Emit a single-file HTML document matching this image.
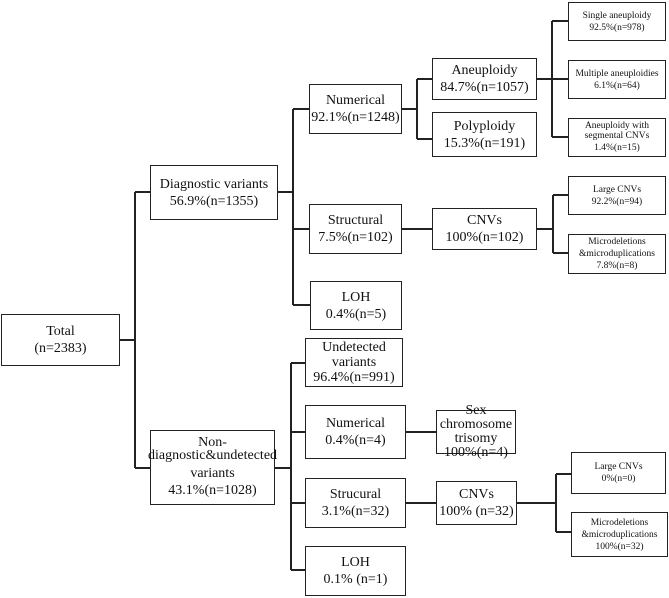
<!DOCTYPE html>
<html><head><meta charset="utf-8"><style>
html,body{margin:0;padding:0;background:#fff;}
body{width:669px;height:598px;position:relative;overflow:hidden;font-family:"Liberation Serif",serif;color:#111;}
.b{position:absolute;box-sizing:border-box;border:1.6px solid #222;display:flex;flex-direction:column;align-items:center;justify-content:center;text-align:center;font-size:14px;line-height:17px;}
.s{font-size:9.5px;line-height:12px;}
svg{position:absolute;left:0;top:0;}
</style></head><body>
<svg width="669" height="598" stroke="#222" stroke-width="2" fill="none">
<path d="M120 340H135M135 192V468M135 192H150M135 468H150"/>
<path d="M278 192H293M293 109V305M293 109H309M293 229H309M293 305H310"/>
<path d="M402 109H417M417 79V139M417 79H432M417 139H432"/>
<path d="M537 79H552M552 21V137M552 21H568M552 79H568M552 137H568"/>
<path d="M402 229H432M537 229H553M553 195V253M553 195H568M553 253H568"/>
<path d="M275 468H291M291 363V570M291 363H305M291 432H305M291 503H305M291 570H305"/>
<path d="M406 432H436M406 503H436M517 503H556M556 474V532M556 474H571M556 532H571"/>
</svg>
<div class="b" style="left:1px;top:314px;width:119px;height:52px;">Total<br>(n=2383)</div>
<div class="b" style="left:150px;top:165px;width:128px;height:55px;">Diagnostic variants<br>56.9%(n=1355)</div>
<div class="b" style="left:150px;top:430px;width:125px;height:75px;"><span style="line-height:13px">Non-<br>diagnostic&amp;undetected</span><span style="margin-top:3px">variants<br>43.1%(n=1028)</span></div>
<div class="b" style="left:309px;top:84px;width:93px;height:50px;">Numerical<br>92.1%(n=1248)</div>
<div class="b" style="left:309px;top:204px;width:93px;height:50px;">Structural<br>7.5%(n=102)</div>
<div class="b" style="left:310px;top:281px;width:92px;height:49px;">LOH<br>0.4%(n=5)</div>
<div class="b" style="left:432px;top:58px;width:105px;height:42px;">Aneuploidy<br>84.7%(n=1057)</div>
<div class="b" style="left:432px;top:112px;width:105px;height:45px;">Polyploidy<br>15.3%(n=191)</div>
<div class="b" style="left:432px;top:208px;width:105px;height:42px;">CNVs<br>100%(n=102)</div>
<div class="b s" style="left:568px;top:2px;width:98px;height:39px;">Single aneuploidy<br>92.5%(n=978)</div>
<div class="b s" style="left:568px;top:60px;width:98px;height:39px;">Multiple aneuploidies<br>6.1%(n=64)</div>
<div class="b s" style="left:568px;top:118px;width:98px;height:39px;line-height:10px;">Aneuploidy with<br>segmental CNVs<br><span style="line-height:14px">1.4%(n=15)</span></div>
<div class="b s" style="left:568px;top:176px;width:98px;height:39px;">Large CNVs<br>92.2%(n=94)</div>
<div class="b s" style="left:568px;top:234px;width:98px;height:40px;">Microdeletions<br>&amp;microduplications<br>7.8%(n=8)</div>
<div class="b" style="left:305px;top:338px;width:98px;height:49px;line-height:15px;">Undetected<br>variants<br>96.4%(n=991)</div>
<div class="b" style="left:305px;top:405px;width:101px;height:54px;">Numerical<br>0.4%(n=4)</div>
<div class="b" style="left:305px;top:478px;width:101px;height:50px;">Strucural<br>3.1%(n=32)</div>
<div class="b" style="left:305px;top:546px;width:101px;height:50px;">LOH<br>0.1% (n=1)</div>
<div class="b" style="left:436px;top:410px;width:80px;height:44px;line-height:14px;">Sex chromosome<br>trisomy<br>100%(n=4)</div>
<div class="b" style="left:436px;top:481px;width:81px;height:44px;">CNVs<br>100% (n=32)</div>
<div class="b s" style="left:571px;top:452px;width:95px;height:42px;">Large CNVs<br>0%(n=0)</div>
<div class="b s" style="left:571px;top:512px;width:97px;height:45px;">Microdeletions<br>&amp;microduplications<br>100%(n=32)</div>
</body></html>
